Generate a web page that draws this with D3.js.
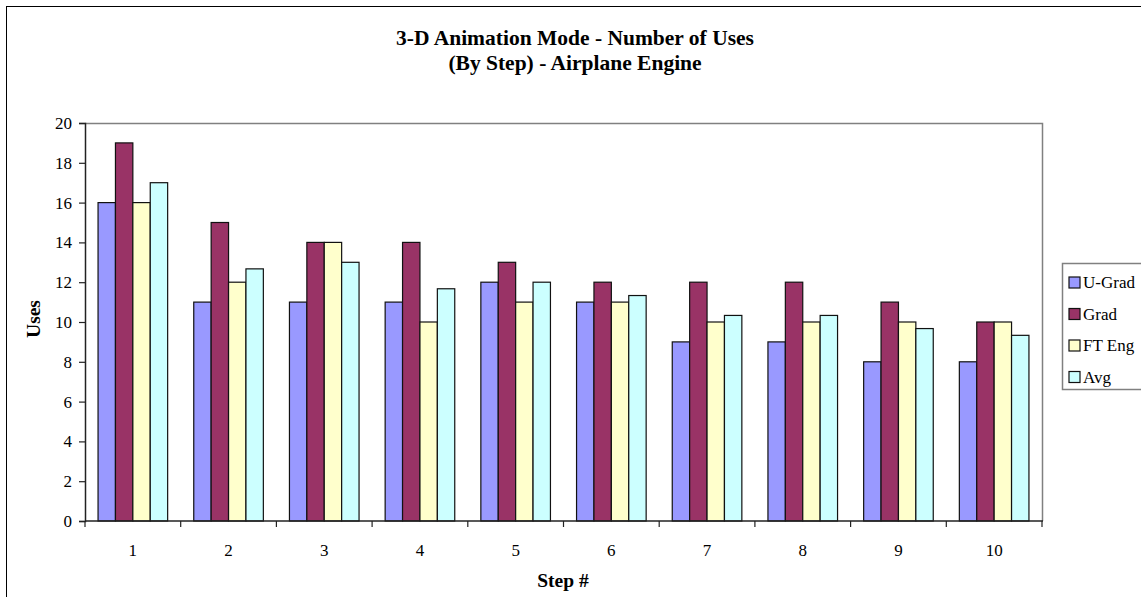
<!DOCTYPE html>
<html>
<head>
<meta charset="utf-8">
<script src="https://cdn.jsdelivr.net/npm/d3@7/dist/d3.min.js"></script>
<style>
  html, body { margin: 0; padding: 0; background: #fff; }
  svg { display: block; }
  svg text { font-family: "Liberation Serif", "Times New Roman", Times, serif !important; }
</style>
</head>
<body>
<svg id="chart" width="1141" height="597"></svg>
<script>
// Steps along the x axis
const steps = ["1", "2", "3", "4", "5", "6", "7", "8", "9", "10"];
// Series
const seriesNames = ["U-Grad", "Grad", "FT Eng", "Avg"];
const uGrad = [16, 11, 11, 11, 12, 11, 9, 9, 8, 8];
const grad = [19, 15, 14, 14, 13, 12, 12, 12, 11, 10];
const ftEng = [16, 12, 14, 10, 11, 11, 10, 10, 10, 10];
const avg = [17, 12.67, 13, 11.67, 12, 11.33, 10.33, 10.33, 9.67, 9.33];
const yTicks = [0, 2, 4, 6, 8, 10, 12, 14, 16, 18, 20];
const colors = ["#9999FF", "#993366", "#FFFFCC", "#CCFFFF"];

const seriesValues = [uGrad, grad, ftEng, avg];

const svg = d3.select("#chart");

// Outer chart frame
svg.append("rect")
  .attr("x", 6.5).attr("y", 6.5)
  .attr("width", 1160).attr("height", 620)
  .attr("fill", "#fff").attr("stroke", "#000").attr("stroke-width", 1);

const plot = { left: 85, right: 1042, top: 123, bottom: 521 };

const x = d3.scaleBand().domain(steps).range([plot.left, plot.right]).paddingInner(0).paddingOuter(0);
const bandW = x.bandwidth();
// four bars with a 150% gap between groups
const barW = bandW / 5.5;
const xs = d3.scaleBand().domain(seriesNames).range([0.75 * barW, 0.75 * barW + 4 * barW]);

const y = d3.scaleLinear().domain([0, 20]).range([plot.bottom, plot.top]);

// Plot area border (top and right, grey)
svg.append("path")
  .attr("d", `M${plot.left},${plot.top + 0.5}H${plot.right + 0.5}V${plot.bottom}`)
  .attr("fill", "none").attr("stroke", "#808080").attr("stroke-width", 1.5);

// Bars
const groups = svg.append("g");
seriesNames.forEach((name, si) => {
  groups.selectAll(null)
    .data(steps.map((s, i) => ({ step: s, v: seriesValues[si][i] })))
    .join("rect")
    .attr("x", d => x(d.step) + xs(name))
    .attr("y", d => y(d.v))
    .attr("width", xs.bandwidth())
    .attr("height", d => y(0) - y(d.v))
    .attr("fill", colors[si])
    .attr("stroke", "#111")
    .attr("stroke-width", 1.2);
});

// Y axis
const yAxis = d3.axisLeft(y).tickValues(yTicks).tickSize(6).tickPadding(7).tickFormat(d3.format("d"));
const gy = svg.append("g").attr("transform", `translate(${plot.left},0)`).call(yAxis);
gy.select(".domain").attr("stroke", "#222").attr("stroke-width", 1.5);
gy.selectAll(".tick line").attr("stroke", "#222").attr("stroke-width", 1.2);
gy.selectAll("text").attr("font-size", 17).attr("fill", "#000");

// X axis with ticks at category boundaries
const gx = svg.append("g").attr("transform", `translate(0,${plot.bottom})`);
gx.append("line").attr("x1", plot.left).attr("x2", plot.right + 1)
  .attr("stroke", "#222").attr("stroke-width", 1.5);
const bounds = steps.map(s => x(s)).concat([plot.right]);
gx.selectAll(".bt").data(bounds).join("line")
  .attr("x1", d => d).attr("x2", d => d).attr("y1", 0).attr("y2", 6)
  .attr("stroke", "#222").attr("stroke-width", 1.2);
gx.selectAll(".lbl").data(steps).join("text")
  .attr("x", d => x(d) + bandW / 2).attr("y", 35)
  .attr("text-anchor", "middle").attr("font-size", 17).text(d => d);

// Titles
const title = svg.append("text").attr("text-anchor", "middle")
  .attr("font-weight", "bold").attr("font-size", 21.5);
title.append("tspan").attr("x", 575).attr("y", 45).text("3-D Animation Mode - Number of Uses");
title.append("tspan").attr("x", 575).attr("y", 70).text("(By Step) - Airplane Engine");

svg.append("text").attr("x", 563).attr("y", 587).attr("text-anchor", "middle")
  .attr("font-weight", "bold").attr("font-size", 19.5).text("Step #");

svg.append("text").attr("transform", "translate(40,319) rotate(-90)")
  .attr("text-anchor", "middle").attr("font-weight", "bold").attr("font-size", 19.5).text("Uses");

// Legend
const lg = svg.append("g").attr("transform", "translate(1062,263)");
lg.append("rect").attr("x", 0.5).attr("y", 0.5).attr("width", 100).attr("height", 126)
  .attr("fill", "#fff").attr("stroke", "#808080").attr("stroke-width", 1.5);
const items = lg.selectAll(".it").data(seriesNames).join("g")
  .attr("transform", (d, i) => `translate(7,${19 + i * 31.5})`);
items.append("rect").attr("x", 0).attr("y", -5).attr("width", 11).attr("height", 11)
  .attr("fill", (d, i) => colors[i]).attr("stroke", "#111").attr("stroke-width", 1.2);
items.append("text").attr("x", 14).attr("y", 6).attr("font-size", 17).text(d => d);
</script>
</body>
</html>
